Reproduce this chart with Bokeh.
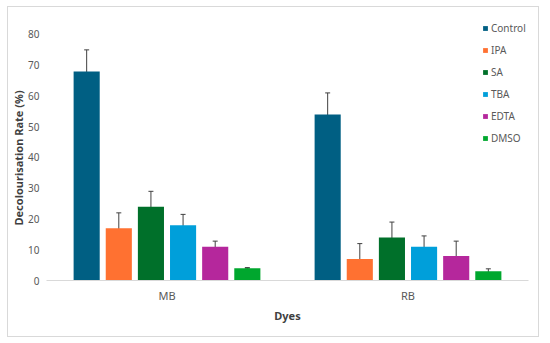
from bokeh.plotting import figure
from bokeh.models import ColumnDataSource, Whisker, FixedTicker, Legend, LegendItem, Range1d, FactorRange, Title
from bokeh.transform import dodge
from bokeh.embed import file_html
from bokeh.resources import INLINE

dyes = ["MB", "RB"]
series = ["Control", "IPA", "SA", "TBA", "EDTA", "DMSO"]
colors = ["#005F83", "#FF7131", "#00702A", "#009FDA", "#B5279C", "#00A72E"]
values = {
    "Control": [68, 54],
    "IPA": [17, 7],
    "SA": [24, 14],
    "TBA": [18, 11],
    "EDTA": [11, 8],
    "DMSO": [4, 3],
}
errors = {
    "Control": [7, 7],
    "IPA": [5, 5],
    "SA": [5, 5],
    "TBA": [3.5, 3.5],
    "EDTA": [1.8, 4.8],
    "DMSO": [0.2, 0.8],
}
y_ticks = [0, 10, 20, 30, 40, 50, 60, 70, 80]

FONT = "Noto Sans"
p = figure(x_range=FactorRange(*dyes, range_padding=0), y_range=Range1d(0, 86.5),
           width=532, height=331, output_backend="svg", toolbar_location=None,
           min_border_left=38, min_border_right=12, min_border_top=7, min_border_bottom=58)
p.styles = {"margin": "6px 0 0 7px", "border": "1px solid #d9d9d9"}
p.outline_line_color = None
p.xgrid.grid_line_color = None
p.ygrid.grid_line_color = None

step = 32 / 240
bw = 26 / 240
items = []
for i, s in enumerate(series):
    off = (i - 2.5) * step
    src = ColumnDataSource(dict(dye=dyes, val=values[s],
                                upper=[v + e for v, e in zip(values[s], errors[s])],
                                lower=[v - e for v, e in zip(values[s], errors[s])]))
    r = p.vbar(x=dodge("dye", off, range=p.x_range), top="val", width=bw, source=src,
               fill_color=colors[i], line_color=None)
    w = Whisker(base=dodge("dye", off, range=p.x_range), upper="upper", lower="lower",
                source=src, line_color="#404040", line_width=1)
    w.upper_head.size = 5
    w.lower_head.size = 5
    w.upper_head.line_color = "#404040"
    w.lower_head.line_color = "#404040"
    p.add_layout(w)
    items.append(LegendItem(label=s, renderers=[r]))

leg = Legend(items=items, location=(436, 135), border_line_color=None, background_fill_alpha=0,
             glyph_width=6, glyph_height=6, label_height=14, spacing=8, padding=0, margin=0,
             label_standoff=3, label_text_font=FONT, label_text_font_size="10px",
             label_text_color="#595959")
p.add_layout(leg)

p.yaxis.ticker = FixedTicker(ticks=y_ticks)
p.yaxis.axis_line_color = None
p.yaxis.major_tick_line_color = None
p.yaxis.minor_tick_line_color = None
p.yaxis.major_label_text_font = FONT
p.yaxis.major_label_text_font_size = "10px"
p.yaxis.major_label_text_color = "#595959"
p.yaxis.major_label_standoff = 1

ytitle = Title(text="Decolourisation Rate (%)", align="left", offset=55, standoff=0,
               text_font=FONT, text_font_style="bold", text_font_size="11px",
               text_color="#404040")
p.add_layout(ytitle, "left")

p.xaxis.axis_line_color = "#d9d9d9"
p.xaxis.major_tick_line_color = None
p.xaxis.minor_tick_line_color = None
p.xaxis.major_label_text_font = FONT
p.xaxis.major_label_text_font_size = "11px"
p.xaxis.major_label_text_color = "#595959"
p.xaxis.major_label_standoff = 1
p.xaxis.axis_label = "Dyes"
p.xaxis.axis_label_text_font = FONT
p.xaxis.axis_label_text_font_style = "bold"
p.xaxis.axis_label_text_font_size = "11px"
p.xaxis.axis_label_text_color = "#404040"
p.xaxis.axis_label_standoff = 2

open("out.html", "w").write(file_html(p, INLINE))
